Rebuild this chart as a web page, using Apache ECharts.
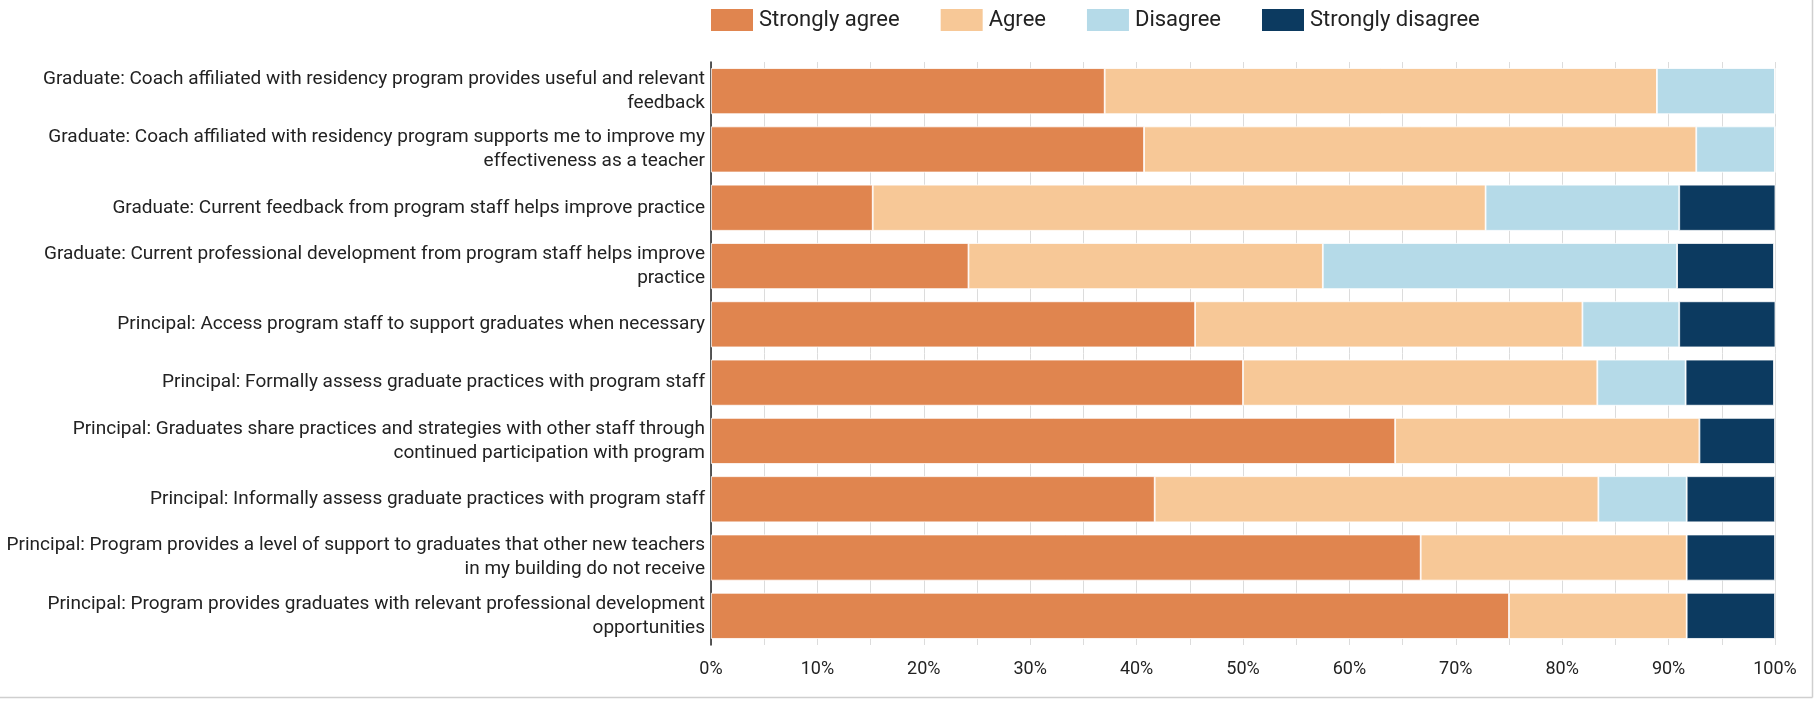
<!DOCTYPE html>
<html>
<head>
<meta charset="utf-8">
<script src="https://cdn.jsdelivr.net/npm/echarts@6/dist/echarts.min.js"></script>
<style>
  html, body { margin: 0; padding: 0; background: #fff; }
  #chart { width: 1819px; height: 701px; }
</style>
</head>
<body>
<div id="chart"></div>
<script>
// Survey statements (top to bottom)
const statements = [
  'Graduate: Coach affiliated with residency program provides useful and relevant\nfeedback',
  'Graduate: Coach affiliated with residency program supports me to improve my\neffectiveness as a teacher',
  'Graduate: Current feedback from program staff helps improve practice',
  'Graduate: Current professional development from program staff helps improve\npractice',
  'Principal: Access program staff to support graduates when necessary',
  'Principal: Formally assess graduate practices with program staff',
  'Principal: Graduates share practices and strategies with other staff through\ncontinued participation with program',
  'Principal: Informally assess graduate practices with program staff',
  'Principal: Program provides a level of support to graduates that other new teachers\nin my building do not receive',
  'Principal: Program provides graduates with relevant professional development\nopportunities'
];

// Share of responses (%) per statement
const stronglyAgree    = [37.0, 40.7, 15.2, 24.2, 45.5, 50.0, 64.3, 41.7, 66.7, 75.0];
const agree            = [51.9, 51.9, 57.6, 33.3, 36.4, 33.3, 28.6, 41.7, 25.0, 16.7];
const disagree         = [11.1,  7.4, 18.2, 33.3,  9.1,  8.3,  0.0,  8.3,  0.0,  0.0];
const stronglyDisagree = [ 0.0,  0.0,  9.1,  9.1,  9.1,  8.3,  7.1,  8.3,  8.3,  8.3];

const xTicks = [0, 10, 20, 30, 40, 50, 60, 70, 80, 90, 100];

const seriesDefs = [
  { name: 'Strongly agree',    data: stronglyAgree,    color: '#E0854F' },
  { name: 'Agree',             data: agree,            color: '#F7C897' },
  { name: 'Disagree',          data: disagree,         color: '#B5DAE8' },
  { name: 'Strongly disagree', data: stronglyDisagree, color: '#0C3A60' }
];

const FONT = 'Roboto';
const W = 1819, H = 701;
const chart = echarts.init(document.getElementById('chart'), null, { renderer: 'canvas' });

chart.setOption({
  animation: false,
  backgroundColor: '#fff',
  textStyle: { fontFamily: FONT },
  legend: {
    top: 7,
    left: 709,
    padding: 0,
    itemWidth: 44,
    itemHeight: 24,
    itemGap: 39,
    icon: 'rect',
    textStyle: { fontFamily: FONT, fontSize: 22, color: '#222' },
    data: seriesDefs.map(s => s.name)
  },
  grid: { left: 711, right: 44, top: 62, bottom: 56, containLabel: false },
  xAxis: {
    type: 'value',
    min: xTicks[0],
    max: xTicks[xTicks.length - 1],
    interval: 10,
    axisLine: { show: false },
    axisTick: { show: false },
    axisLabel: {
      fontFamily: FONT, fontSize: 18, color: '#222', margin: 15,
      formatter: v => v + '%'
    },
    splitLine: { show: true, lineStyle: { color: '#dcdcdc', width: 1 } },
    minorTick: { show: false, splitNumber: 2 },
    minorSplitLine: { show: true, lineStyle: { color: '#dcdcdc', width: 1 } }
  },
  yAxis: {
    type: 'category',
    inverse: true,
    data: statements,
    axisLine: { show: true, lineStyle: { color: '#222', width: 1.5 } },
    axisTick: { show: false },
    axisLabel: {
      fontFamily: FONT, fontSize: 19, color: '#222', margin: 6,
      lineHeight: 24, align: 'right'
    }
  },
  // thin frame along the right and bottom edges of the panel
  graphic: [
    { type: 'line', silent: true, shape: { x1: W - 6.5, y1: 0, x2: W - 6.5, y2: H - 3.5 },
      style: { stroke: '#cfcfcf', lineWidth: 1.5 } },
    { type: 'line', silent: true, shape: { x1: 0, y1: H - 3.5, x2: W - 6.5, y2: H - 3.5 },
      style: { stroke: '#cfcfcf', lineWidth: 1.5 } }
  ],
  series: seriesDefs.map(s => ({
    name: s.name,
    type: 'bar',
    stack: 'total',
    barCategoryGap: '21%',
    data: s.data,
    itemStyle: { color: s.color, borderColor: '#fff', borderWidth: 0.8 },
    emphasis: { disabled: true }
  }))
});
</script>
</body>
</html>
